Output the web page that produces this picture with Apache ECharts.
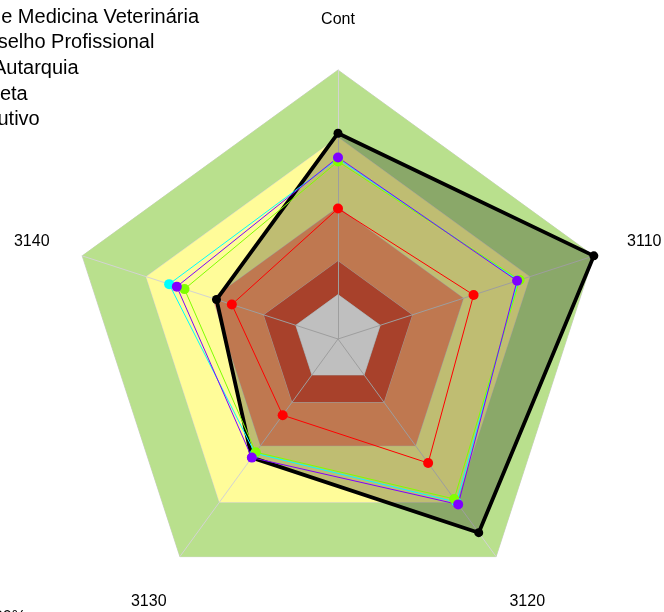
<!DOCTYPE html>
<html>
<head>
<meta charset="utf-8">
<script src="https://cdn.jsdelivr.net/npm/echarts@6/dist/echarts.min.js"></script>
<style>
html, body { margin: 0; padding: 0; background: #fff; }
#radar-chart { width: 664px; height: 612px; }
</style>
</head>
<body>
<div id="radar-chart"></div>
<script>
// axis order as drawn, counter-clockwise from the top
var axisNames = ['Cont', '3140', '3130', '3120', '3110'];

// background bands, outermost first (percent of the axis)
var bandLevels = [100, 75, 49, 29, 16.5];
var bandColors = ['#b9e08d', '#fffc99', '#ffa06b', '#e0573a', '#ffffff'];

var seriesNames = ['Conselho de Medicina Veterinária', 'Conselho Profissional', 'Autarquia', 'Indireta', 'Executivo'];
var seriesColors = ['#000000', '#8000ff', '#80ff00', '#00ffff', '#ff0000'];

// values per axis: Cont, 3140, 3130, 3120, 3110
var medVetValues = [76.5, 47.5, 54.5, 89, 100];
var conselhoValues = [67.5, 63, 54.5, 76, 70];
var autarquiaValues = [66, 60, 52, 73.5, 71];
var indiretaValues = [67, 66, 52.5, 75, 70.5];
var executivoValues = [48.5, 41.5, 35, 57, 53];

var seriesValues = [medVetValues, conselhoValues, autarquiaValues, indiretaValues, executivoValues];

// legend is cut by the left edge, each row placed on its own
var legendLeft = [-130, -69, -37, -69, -77];
var legendTop = [7, 32, 58, 84, 109];

var radarChart = echarts.init(document.getElementById('radar-chart'));

renderRadar();

function renderRadar() {
    var bandSeries = bandLevels.map(function (level, i) {
        return {
            type: 'radar',
            z: 1,
            silent: true,
            symbol: 'none',
            lineStyle: { color: '#d0d0d0', width: 1 },
            areaStyle: { color: bandColors[i], opacity: 1 },
            data: [{ value: axisNames.map(function () { return level; }) }]
        };
    });

    // drawing order: black first, red on top
    var drawOrder = [0, 3, 2, 1, 4];
    var dataSeries = drawOrder.map(function (k) {
        var isMain = k === 0;
        return {
            type: 'radar',
            name: seriesNames[k],
            z: 2,
            symbol: 'circle',
            symbolSize: isMain ? 9 : 10,
            itemStyle: { color: seriesColors[k] },
            lineStyle: { color: seriesColors[k], width: isMain ? 3.8 : 1 },
            areaStyle: isMain ? { color: '#000', opacity: 0.25 } : null,
            data: [{ name: seriesNames[k], value: seriesValues[k] }]
        };
    });

    var option = {
        animation: false,
        title: {
            text: '100%',
            left: -15,
            top: 610,
            padding: 0,
            textStyle: { fontSize: 16, fontWeight: 'normal', color: '#000', fontFamily: 'Liberation Sans' }
        },
        legend: seriesNames.map(function (name, i) {
            return {
                data: [name],
                left: legendLeft[i],
                top: legendTop[i],
                padding: 0,
                itemWidth: 25,
                itemHeight: 14,
                itemGap: 5,
                selectedMode: false,
                textStyle: { fontSize: 20, color: '#000', fontFamily: 'Liberation Sans' }
            };
        }),
        radar: {
            center: [338, 339],
            radius: 269,
            startAngle: 90,
            shape: 'polygon',
            z: 1.5,
            splitNumber: 1,
            nameGap: 53,
            axisName: {
                color: '#000',
                fontSize: 16,
                fontFamily: 'Liberation Sans',
                align: 'center',
                verticalAlign: 'middle',
                formatter: '{v|{value}}',
                rich: {
                    v: {
                        color: '#000',
                        fontSize: 16,
                        fontFamily: 'Liberation Sans',
                        padding: [5, 0, 0, 0]
                    }
                }
            },
            indicator: axisNames.map(function (n) {
                return { name: n, min: 0, max: 100 };
            }),
            splitLine: { show: false },
            splitArea: { show: false },
            axisLine: { lineStyle: { color: '#d3d3d3', width: 1 } },
            axisTick: { show: false },
            axisLabel: { show: false }
        },
        series: bandSeries.concat(dataSeries)
    };

    radarChart.setOption(option);
}
</script>
</body>
</html>
